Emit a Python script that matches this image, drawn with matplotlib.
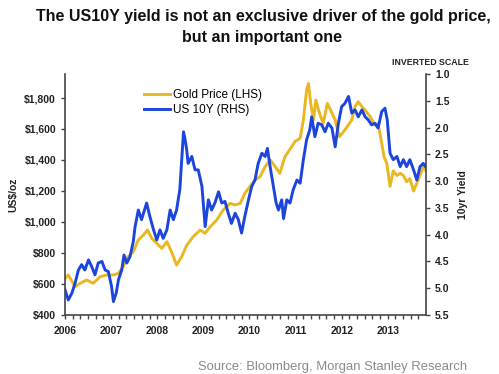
import matplotlib
matplotlib.use('Agg')
import matplotlib.pyplot as plt
from matplotlib.ticker import FuncFormatter, MultipleLocator

plt.rcParams['font.family'] = ['Liberation Sans', 'DejaVu Sans']

# --- Data (chart-year positions) ---
gold_t = [2006.00, 2006.07, 2006.22, 2006.33, 2006.47, 2006.61, 2006.76, 2006.90,
          2007.05, 2007.16, 2007.26, 2007.37, 2007.48, 2007.59, 2007.70, 2007.79,
          2007.88, 2007.99, 2008.10, 2008.21, 2008.31, 2008.42, 2008.53, 2008.64,
          2008.78, 2008.93, 2009.04, 2009.15, 2009.29, 2009.43, 2009.58, 2009.69,
          2009.80, 2009.90, 2010.01, 2010.12, 2010.23, 2010.34, 2010.45, 2010.56,
          2010.66, 2010.77, 2010.88, 2010.99, 2011.10, 2011.17, 2011.24, 2011.28,
          2011.33, 2011.39, 2011.44, 2011.52, 2011.60, 2011.69, 2011.76, 2011.86,
          2011.95, 2012.04, 2012.12, 2012.22, 2012.29, 2012.36, 2012.44, 2012.51,
          2012.62, 2012.72, 2012.79, 2012.87, 2012.92, 2012.98, 2013.05, 2013.12,
          2013.20, 2013.27, 2013.34, 2013.41, 2013.48, 2013.56, 2013.63, 2013.70,
          2013.77, 2013.82]
gold_price = [635, 658, 583, 604, 626, 604, 647, 658,
              658, 669, 712, 776, 808, 884, 916, 948,
              895, 862, 830, 873, 808, 722, 776, 850,
              905, 948, 927, 970, 1013, 1077, 1120, 1110,
              1120, 1185, 1228, 1271, 1292, 1357, 1400, 1357,
              1314, 1421, 1470, 1520, 1540, 1658, 1851, 1894,
              1765, 1658, 1787, 1701, 1636, 1765, 1722, 1658,
              1550, 1582, 1615, 1658, 1744, 1776, 1744, 1722,
              1679, 1625, 1636, 1507, 1421, 1378, 1230, 1330,
              1300, 1314, 1300, 1260, 1280, 1200, 1250, 1300,
              1357, 1335]

yield_t = [2006.00, 2006.07, 2006.15, 2006.22, 2006.29, 2006.36, 2006.43, 2006.51,
           2006.58, 2006.65, 2006.72, 2006.80, 2006.87, 2006.94, 2007.01, 2007.05,
           2007.11, 2007.16, 2007.23, 2007.28, 2007.34, 2007.41, 2007.48, 2007.52,
           2007.59, 2007.66, 2007.77, 2007.84, 2007.92, 2007.99, 2008.06, 2008.13,
           2008.21, 2008.28, 2008.35, 2008.42, 2008.49, 2008.57, 2008.60, 2008.64,
           2008.67, 2008.75, 2008.82, 2008.89, 2008.97, 2009.04, 2009.11, 2009.18,
           2009.25, 2009.33, 2009.40, 2009.47, 2009.54, 2009.61, 2009.69, 2009.76,
           2009.83, 2009.90, 2009.98, 2010.05, 2010.12, 2010.19, 2010.27, 2010.34,
           2010.39, 2010.46, 2010.52, 2010.58, 2010.63, 2010.70, 2010.74, 2010.81,
           2010.88, 2010.95, 2011.03, 2011.10, 2011.17, 2011.24, 2011.31, 2011.35,
           2011.42, 2011.49, 2011.57, 2011.64, 2011.71, 2011.79, 2011.86, 2011.93,
           2012.00, 2012.07, 2012.15, 2012.22, 2012.29, 2012.36, 2012.44, 2012.51,
           2012.58, 2012.65, 2012.72, 2012.79, 2012.87, 2012.94, 2012.99, 2013.05,
           2013.12, 2013.20, 2013.27, 2013.34, 2013.41, 2013.48, 2013.56, 2013.63,
           2013.70, 2013.77, 2013.82]
us10y = [5.03, 5.22, 5.09, 4.90, 4.66, 4.56, 4.66, 4.47,
         4.60, 4.75, 4.53, 4.50, 4.66, 4.69, 4.97, 5.25,
         5.09, 4.84, 4.66, 4.38, 4.53, 4.41, 4.13, 3.85,
         3.54, 3.72, 3.41, 3.66, 3.91, 4.10, 3.91, 4.07,
         3.91, 3.54, 3.72, 3.54, 3.16, 2.08, 2.20, 2.42,
         2.67, 2.54, 2.79, 2.79, 3.10, 3.85, 3.35, 3.54,
         3.41, 3.20, 3.41, 3.38, 3.60, 3.79, 3.60, 3.72,
         3.97, 3.66, 3.35, 3.10, 2.98, 2.67, 2.48, 2.54,
         2.39, 2.79, 3.10, 3.41, 3.54, 3.35, 3.70, 3.35,
         3.41, 3.16, 2.98, 3.04, 2.60, 2.23, 2.04, 1.80,
         2.17, 1.92, 1.95, 2.08, 1.92, 2.01, 2.36, 1.92,
         1.61, 1.55, 1.42, 1.73, 1.67, 1.80, 1.67, 1.80,
         1.86, 1.95, 1.92, 2.01, 1.70, 1.64, 1.86, 2.48,
         2.60, 2.54, 2.73, 2.60, 2.73, 2.60, 2.79, 2.98,
         2.73, 2.67, 2.73]

years = [2006, 2007, 2008, 2009, 2010, 2011, 2012, 2013]
gold_ticks = [400, 600, 800, 1000, 1200, 1400, 1600, 1800]
yield_ticks = [1.0, 1.5, 2.0, 2.5, 3.0, 3.5, 4.0, 4.5, 5.0, 5.5]

GOLD = '#E9B722'
BLUE = '#1B45DC'
DARK = '#222222'

fig = plt.figure(figsize=(4.99, 3.74), dpi=100)
ax = fig.add_axes([0.1303, 0.1578, 0.7234, 0.6444])
ax2 = ax.twinx()

# gold on the left axis, yield on the right (inverted)
g_line, = ax.plot(gold_t, gold_price, color=GOLD, linewidth=2.1, label='Gold Price (LHS)')
b_line, = ax2.plot(yield_t, us10y, color=BLUE, linewidth=2.1, label='US 10Y (RHS)')

ax.set_xlim(2006.0, 2013.83)
ax.set_ylim(400, 1955)
ax2.set_ylim(5.5, 1.0)

ax.set_xticks(years)
ax.set_xticklabels([str(y) for y in years])
ax.xaxis.set_minor_locator(MultipleLocator(1 / 6))
ax.set_yticks(gold_ticks)
ax.yaxis.set_major_formatter(FuncFormatter(lambda v, p: f'${v:,.0f}'))
ax2.set_yticks(yield_ticks)
ax2.yaxis.set_major_formatter(FuncFormatter(lambda v, p: f'{v:.1f}'))

for a in (ax, ax2):
    a.spines['top'].set_visible(False)
    for s in a.spines.values():
        s.set_color('#444444')
        s.set_linewidth(1.2)
ax.spines['right'].set_visible(False)
ax2.spines['left'].set_visible(False)
ax2.spines['bottom'].set_visible(False)

ax.tick_params(axis='both', which='major', labelsize=7.5, colors='#444444',
               labelcolor=DARK, length=3, width=1)
ax.tick_params(axis='x', which='minor', length=3, width=1, colors='#444444')
ax.tick_params(axis='x', pad=5)
ax2.tick_params(axis='y', labelsize=7.5, colors='#444444', labelcolor=DARK, length=3, width=1)
for lbl in ax.get_xticklabels() + ax.get_yticklabels() + ax2.get_yticklabels():
    lbl.set_fontweight('bold')

ax.set_ylabel('US$/oz', fontsize=7.5, fontweight='bold', color=DARK)
ax.yaxis.set_label_coords(-0.13, 0.5)
ax2.set_ylabel('10yr Yield', fontsize=7.5, fontweight='bold', color=DARK, rotation=90)
ax2.yaxis.set_label_coords(1.088, 0.5)

ax.legend(handles=[g_line, b_line], loc='upper left', bbox_to_anchor=(0.19, 0.98),
          frameon=False, fontsize=8.5, handlelength=2.2, handletextpad=0.2,
          labelspacing=0.25)

fig.text(0.527, 0.955, 'The US10Y yield is not an exclusive driver of the gold price,',
         ha='center', va='center', fontsize=11.5, fontweight='bold', color='#111111')
fig.text(0.525, 0.899, 'but an important one',
         ha='center', va='center', fontsize=11.5, fontweight='bold', color='#111111')
fig.text(0.862, 0.834, 'INVERTED SCALE', ha='center', va='center',
         fontsize=6.3, fontweight='bold', color=DARK)
fig.text(0.667, 0.019, 'Source: Bloomberg, Morgan Stanley Research', ha='center',
         va='center', fontsize=9.4, color='#8a8a8a')

fig.savefig('out.png', dpi=100)
